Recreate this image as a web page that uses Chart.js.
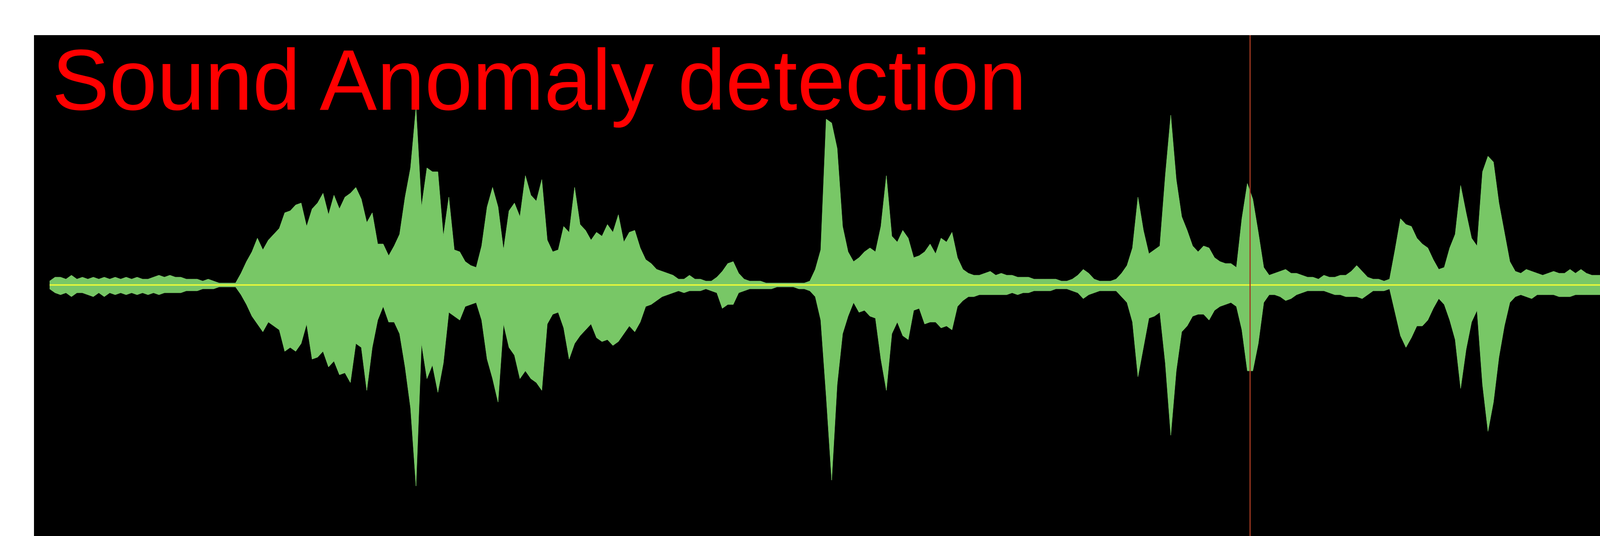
<!DOCTYPE html>
<html>
<head>
<meta charset="utf-8">
<script src="https://cdn.jsdelivr.net/npm/chart.js@4.4.1/dist/chart.umd.min.js"></script>
<style>
html,body{margin:0;padding:0;background:#ffffff;width:4370px;height:1373px;overflow:hidden;}
#panel{position:absolute;left:87px;top:90px;width:4283px;height:1283px;background:#000000;}
#title{position:absolute;left:133px;top:95px;font-family:"Liberation Sans",Arial,sans-serif;font-size:220px;line-height:220px;color:#ff0000;white-space:nowrap;z-index:2;}
canvas{display:block;}
</style>
</head>
<body>
<div id="panel"><canvas id="c" width="4283" height="1283"></canvas></div>
<div id="title">Sound Anomaly detection</div>
<script>
// time between envelope samples (seconds)
const sampleStep = 0.02;

// upper envelope of the waveform (amplitude units, positive)
const upperEnv = [
  2,4,4,3,5,3,4,3,4,3,
  4,3,4,3,4,3,4,3,3,4,
  5,4,5,4,4,3,3,3,2,3,
  2,1,1,1,1,6,12,17,24,18,
  23,26,29,37,38,41,42,30,39,42,
  47,36,46,39,45,47,50,44,32,37,
  21,21,15,20,26,45,60,91,40,60,
  58,58,25,45,18,17,12,10,9,20,
  40,50,40,18,38,42,35,56,46,43,
  54,23,17,18,30,27,50,31,28,23,
  27,25,31,27,36,22,27,28,19,13,
  11,8,7,6,5,3,3,5,3,3,
  2,2,4,7,11,12,6,3,2,2,
  2,1,1,1,1,1,1,1,1,2,
  8,18,85,83,70,30,17,12,14,17,
  19,17,30,56,25,22,28,24,14,15,
  17,21,16,24,22,27,14,8,6,5,
  5,6,7,5,6,5,5,4,4,4,
  3,3,3,3,3,2,2,3,5,8,
  6,3,2,2,2,3,6,10,19,45,
  28,16,18,20,56,87,54,35,28,20,
  17,20,19,14,12,11,11,9,34,52,
  44,27,9,5,6,7,8,6,6,5,
  4,4,3,5,4,4,5,5,7,10,
  7,4,3,3,2,3,18,34,31,30,
  24,21,19,13,8,9,19,26,51,37,
  24,20,58,66,63,42,27,12,7,6,
  8,7,6,5,6,7,6,6,8,6,
  8,6,5,5,5,4,6,5,6,6,
  7,5,5,6,6,6,5,6,5,3,2
];

// lower envelope of the waveform (amplitude units, magnitude below zero)
const lowerEnv = [
  2,4,5,4,6,4,4,5,6,4,
  6,4,5,4,5,4,5,4,5,4,
  5,4,4,4,4,3,3,3,2,2,
  2,1,1,1,1,5,10,16,20,24,
  19,21,23,34,32,34,30,20,38,37,
  34,42,39,46,45,50,30,32,54,32,
  18,11,19,19,25,42,63,103,30,48,
  41,55,40,14,16,18,11,10,9,18,
  38,48,60,20,32,36,48,44,48,50,
  54,20,15,14,22,38,30,26,23,20,
  27,29,28,31,29,25,21,24,19,11,
  10,8,6,5,4,3,4,3,3,3,
  2,3,4,12,10,10,4,3,2,2,
  2,2,2,1,1,1,1,2,2,3,
  6,18,57,100,51,25,16,9,14,13,
  16,17,38,54,25,19,26,28,13,12,
  20,19,19,22,21,23,11,8,6,6,
  5,5,5,5,5,5,4,5,4,4,
  3,3,3,3,2,2,2,3,4,7,
  5,4,3,3,3,3,6,9,19,47,
  32,17,16,14,40,77,44,24,21,16,
  15,15,18,13,11,10,9,11,23,44,
  44,30,9,5,5,6,8,7,5,4,
  3,3,3,3,4,5,5,6,6,6,
  7,5,3,3,3,2,14,26,32,27,
  21,21,18,12,7,10,18,28,53,33,
  19,13,51,75,60,37,21,9,6,5,
  6,7,5,5,5,5,6,6,6,5,
  5,5,5,5,5,5,5,5,4,5,
  5,5,5,5,5,4,4,4,4,3,2
];

// playhead / anomaly marker time (seconds)
const markerTime = [4.39];

// axis limits
const timeRange = [-0.057, 6.061];
const ampRange = [-128.6, 128];

const waveColor = '#78c766';
const zeroColor = '#e2f53c';
const markerColor = '#a33a22';

const times = upperEnv.map((_, i) => +(i * sampleStep).toFixed(2));
const upperPts = upperEnv.map((v, i) => ({ x: times[i], y: v }));
const lowerPts = lowerEnv.map((v, i) => ({ x: times[i], y: -v }));
const zeroPts = [{ x: times[0], y: 0 }, { x: times[times.length - 1], y: 0 }];
const markerPts = [{ x: markerTime[0], y: ampRange[0] }, { x: markerTime[0], y: ampRange[1] }];

new Chart(document.getElementById('c'), {
  type: 'line',
  data: {
    datasets: [
      { label: 'marker', data: markerPts, borderColor: markerColor, borderWidth: 3, pointRadius: 0, fill: false },
      { label: 'zero', data: zeroPts, borderColor: zeroColor, borderWidth: 4, pointRadius: 0, fill: false },
      { label: 'upper', data: upperPts, borderColor: waveColor, backgroundColor: waveColor, borderWidth: 1, pointRadius: 0, tension: 0, fill: 'origin' },
      { label: 'lower', data: lowerPts, borderColor: waveColor, backgroundColor: waveColor, borderWidth: 1, pointRadius: 0, tension: 0, fill: 'origin' }
    ]
  },
  options: {
    responsive: false,
    devicePixelRatio: 1,
    animation: false,
    layout: { padding: 0 },
    plugins: { legend: { display: false }, tooltip: { enabled: false }, title: { display: false } },
    scales: {
      x: { type: 'linear', min: timeRange[0], max: timeRange[1], display: false },
      y: { type: 'linear', min: ampRange[0], max: ampRange[1], display: false }
    }
  }
});
</script>
</body>
</html>
